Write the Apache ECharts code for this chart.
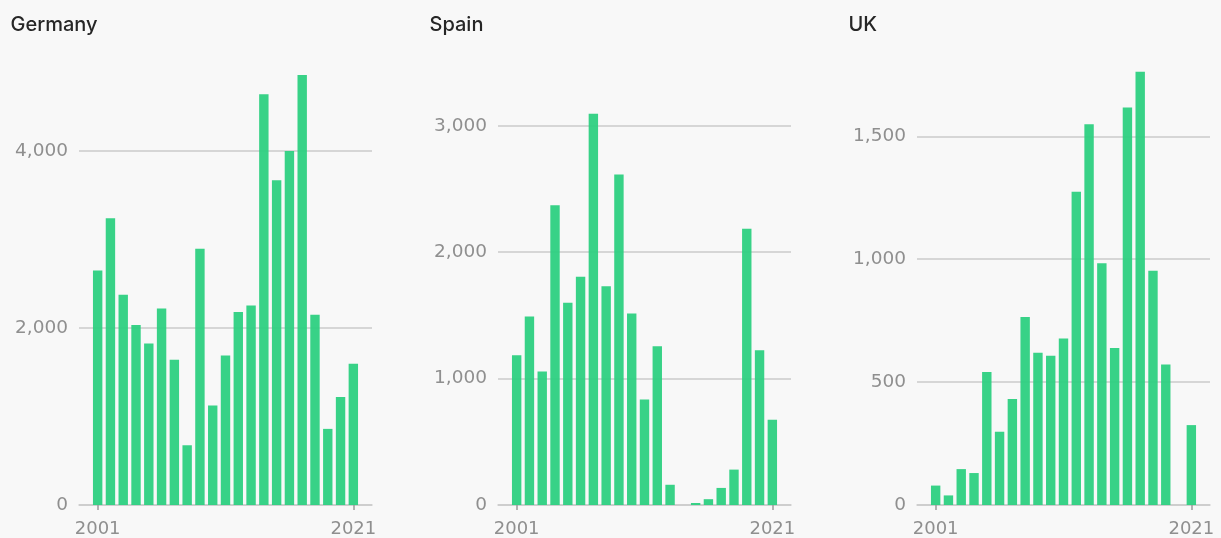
<!DOCTYPE html>
<html>
<head>
<meta charset="utf-8">
<script src="https://cdn.jsdelivr.net/npm/echarts@6/dist/echarts.min.js"></script>
<style>
  html, body { margin: 0; padding: 0; background: #f8f8f8; }
  #chart { width: 1221px; height: 538px; }
</style>
</head>
<body>
<div id="chart"></div>
<script>
const years = [2001,2002,2003,2004,2005,2006,2007,2008,2009,2010,2011,2012,2013,2014,2015,2016,2017,2018,2019,2020,2021];
const germany = [2650,3240,2375,2035,1825,2220,1640,675,2895,1125,1690,2180,2255,4640,3670,4000,4860,2150,860,1220,1595];
const spain = [1185,1490,1055,2370,1600,1805,3095,1730,2615,1515,835,1255,160,0,16,46,135,280,2185,1225,675];
const uk = [79,39,146,130,541,298,431,765,619,607,677,1274,1549,983,639,1617,1762,953,572,0,325];
const titles = ['Germany','Spain','UK'];
const yMax = [5000, 3500, 1800];
const yStep = [1000, 500, 100];
const yLabelStep = [2000, 1000, 500];
const xLabelYears = [2001, 2021];

const FONT = '"DejaVu Sans"';
const TITLE_FONT = 'Inter';
const gridLefts = [79, 498, 917];
const series = [germany, spain, uk];
const fmt = v => String(v).replace(/\B(?=(\d{3})+(?!\d))/g, ',');

const option = {
  backgroundColor: '#f8f8f8',
  animation: false,
  title: titles.map((t, i) => ({
    text: t,
    left: gridLefts[i] - 68.5,
    top: 15,
    padding: 0,
    textStyle: { fontFamily: TITLE_FONT, fontSize: 20, fontWeight: 500, color: '#262626' }
  })),
  grid: gridLefts.map(l => ({ left: l, width: 293, top: 62.5, height: 442.8 })),
  xAxis: gridLefts.map((l, i) => ({
    type: 'value',
    gridIndex: i,
    min: 1999.54,
    max: 2022.46,
    splitLine: { show: false },
    axisLine: { show: true, lineStyle: { color: '#cbcbcb', width: 1.5 } },
    axisTick: { show: true, customValues: xLabelYears, length: 5, lineStyle: { color: '#9a9a9a', width: 1.5 } },
    axisLabel: { customValues: xLabelYears, formatter: v => String(v), color: '#8f8f8f', fontFamily: FONT, fontSize: 18, margin: 15 }
  })),
  yAxis: gridLefts.map((l, i) => {
    const n = yLabelStep[i] / yStep[i];
    const colors = ['#cbcbcb'];
    for (let k = 1; k < n; k++) colors.push('rgba(0,0,0,0)');
    return {
      type: 'value',
      gridIndex: i,
      min: 0,
      max: yMax[i],
      interval: yStep[i],
      axisLine: { show: false },
      axisTick: { show: false },
      splitLine: { show: true, lineStyle: { color: colors, width: 1.5 } },
      axisLabel: {
        formatter: v => (v % yLabelStep[i] === 0 ? fmt(v) : ''),
        color: '#8f8f8f', fontFamily: FONT, fontSize: 18.5, margin: 11
      }
    };
  }),
  series: series.map((vals, i) => ({
    type: 'bar',
    xAxisIndex: i,
    yAxisIndex: i,
    barWidth: 9.4,
    data: years.map((y, k) => [y, vals[k]]),
    itemStyle: { color: '#2dd081', opacity: 0.95 }
  }))
};

const chart = echarts.init(document.getElementById('chart'), null, { renderer: 'canvas' });
chart.setOption(option);
</script>
</body>
</html>
